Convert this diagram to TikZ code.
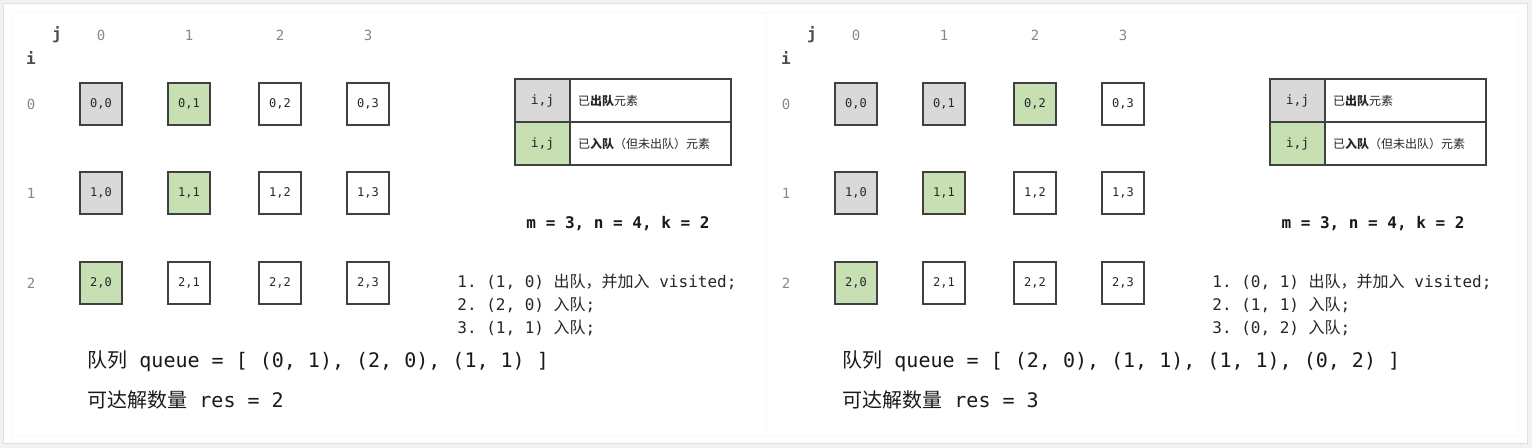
\documentclass[tikz,border=0pt]{standalone}
\usepackage{fontspec}
\setmonofont{DejaVu Sans Mono}
\newfontfamily\cjk{Noto Sans CJK SC}
\usetikzlibrary{positioning}
\newcommand\zh[1]{{\cjk #1}}

\definecolor{outq}{RGB}{217,217,217}
\definecolor{inq}{RGB}{198,224,180}
\definecolor{idx}{RGB}{135,135,135}

\tikzset{
  index/.style={font=\ttfamily\fontsize{7}{8}\selectfont, text=idx, inner sep=0pt},
  axislabel/.style={font=\ttfamily\bfseries\fontsize{8}{9}\selectfont, text=black!70, inner sep=0pt},
  cell/.style={draw=black!75, line width=0.6pt, fill=white, minimum size=21pt, inner sep=0pt,
    font=\ttfamily\fontsize{6}{7}\selectfont, text=black!85},
  seen/.style={fill=outq},
  queued/.style={fill=inq},
  unseen/.style={},
  keycell/.style={minimum width=27.5pt, minimum height=21.5pt, outer sep=0pt,
    font=\ttfamily\fontsize{6.5}{7}\selectfont},
  keytext/.style={draw=black!75, line width=0.6pt, minimum height=21.5pt, text width=72.5pt,
    inner xsep=4pt, inner ysep=0pt, outer sep=0pt, align=left, text=black!85,
    font=\cjk\fontsize{6}{7}\selectfont},
  sizes/.style={font=\ttfamily\bfseries\fontsize{8}{9}\selectfont, text=black!90, inner sep=0pt},
  stepline/.style={anchor=west, inner sep=0pt, font=\ttfamily\fontsize{8}{9}\selectfont, text=black!85},
  summary/.style={anchor=west, inner sep=0pt, font=\ttfamily\fontsize{10}{12}\selectfont, text=black!90},
}

% indices, legend and sizes of one panel
\newcommand\gridaxes[1]{%
  \node[axislabel] (#1j) at (57,35) {j};
  \node[axislabel] (#1i) at (31,58) {i};
  \foreach \c/\x in {0/101,1/189,2/280,3/368}
    \node[index] (#1col\c) at (\x,35) {\c};
  \foreach \r/\y in {0/104,1/193,2/283}
    \node[index] (#1row\r) at (31,\y) {\r};
  % legend
  \node[cell, keycell, seen] (#1key1) at (542.5,100.5) {i,j};
  \node[keytext, right=0pt of #1key1] (#1txt1) {已\textbf{出队}元素};
  \node[cell, keycell, queued, below=0pt of #1key1] (#1key2) {i,j};
  \node[keytext, right=0pt of #1key2] (#1txt2) {已\textbf{入队}（但未出队）元素};
  \node[sizes] (#1mnk) at (618,224) {m = 3, n = 4, k = 2};
}

\begin{document}
\begin{tikzpicture}[x=0.5pt,y=-0.5pt]
    % card and the two panels
    \fill[black!5] (0,0) rectangle (1532,448);
    \filldraw[draw=black!12, fill=white] (3,3) rectangle (1527,443);
    \draw[black!3] (12,12) rectangle (1518,436);
    \draw[black!3] (766,12) -- (766,436);
    \useasboundingbox (0,0) rectangle (1532,448);

    % left panel
    \gridaxes{L}
    \foreach \r/\c/\s in {0/0/seen,0/1/queued,0/2/unseen,0/3/unseen,
                          1/0/seen,1/1/queued,1/2/unseen,1/3/unseen,
                          2/0/queued,2/1/unseen,2/2/unseen,2/3/unseen}
      \node[cell,\s] (L\r\c) at (Lcol\c |- Lrow\r) {\r,\c};
    \node[stepline] (Ls1) at (457,282) {1. (1, 0) \zh{出队，并加入} visited;};
    \node[stepline] (Ls2) at (457,305) {2. (2, 0) \zh{入队};};
    \node[stepline] (Ls3) at (457,328) {3. (1, 1) \zh{入队};};
    \node[summary] (Lqueue) at (87,361) {\zh{队列} queue = [ (0, 1), (2, 0), (1, 1) ]};
    \node[summary] (Lres) at (87,400) {\zh{可达解数量} res = 2};

    % right panel
    \begin{scope}[xshift=377.5pt]
    \gridaxes{R}
    \foreach \r/\c/\s in {0/0/seen,0/1/seen,0/2/queued,0/3/unseen,
                          1/0/seen,1/1/queued,1/2/unseen,1/3/unseen,
                          2/0/queued,2/1/unseen,2/2/unseen,2/3/unseen}
      \node[cell,\s] (R\r\c) at (Rcol\c |- Rrow\r) {\r,\c};
    \node[stepline] (Rs1) at (457,282) {1. (0, 1) \zh{出队，并加入} visited;};
    \node[stepline] (Rs2) at (457,305) {2. (1, 1) \zh{入队};};
    \node[stepline] (Rs3) at (457,328) {3. (0, 2) \zh{入队};};
    \node[summary] (Rqueue) at (87,361) {\zh{队列} queue = [ (2, 0), (1, 1), (1, 1), (0, 2) ]};
    \node[summary] (Rres) at (87,400) {\zh{可达解数量} res = 3};
    \end{scope}
\end{tikzpicture}
\end{document}
